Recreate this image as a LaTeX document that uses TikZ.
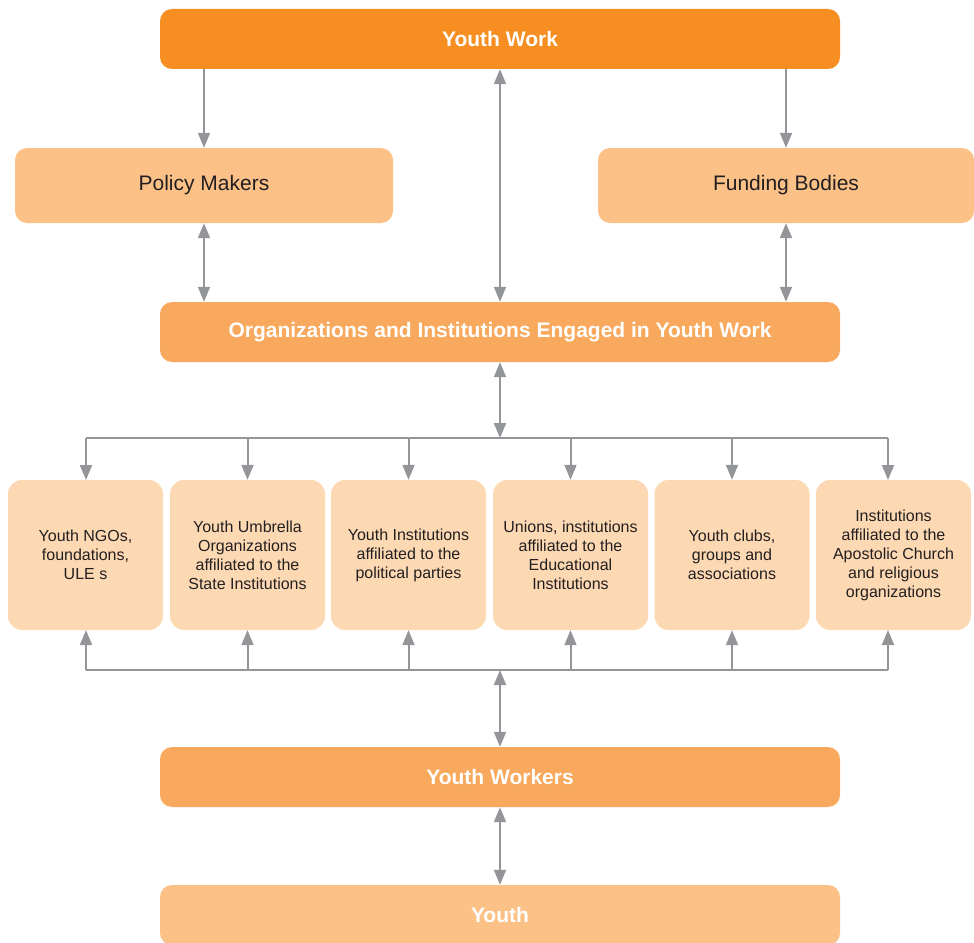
\documentclass[tikz,border=0pt]{standalone}
\usepackage{fontspec}
\setmainfont{Liberation Sans}
\usetikzlibrary{arrows.meta}
\definecolor{cdark}{HTML}{F68E21}
\definecolor{cmid}{HTML}{F8A95E}
\definecolor{clight}{HTML}{FBC187}
\definecolor{cpale}{HTML}{FDD9B3}
\definecolor{cgray}{HTML}{939598}
\definecolor{ctext}{HTML}{231F20}
\tikzset{
  bigbox/.style={rounded corners=12pt, minimum width=680pt, minimum height=60pt, inner sep=0pt,
    text=white, font=\fontsize{21}{25}\selectfont\bfseries},
  sidebox/.style={rounded corners=12pt, fill=clight, minimum height=75pt, inner sep=0pt,
    text=ctext, font=\fontsize{21}{25}\selectfont},
  smallbox/.style={rounded corners=14pt, fill=cpale, minimum width=155pt, minimum height=150pt,
    inner sep=0pt, text=ctext, align=center, font=\fontsize{16}{19}\selectfont},
  conn/.style={draw=cgray, line width=2pt},
  tip/.style={conn, -{Triangle[width=12pt,length=15pt]}},
  dtip/.style={conn, {Triangle[width=12pt,length=15pt]}-{Triangle[width=12pt,length=15pt]}},
}
\begin{document}
\begin{tikzpicture}[x=1pt,y=1pt]
\useasboundingbox (0,0) rectangle (974,-942);
\begin{scope}
\clip (0,0) rectangle (974,-942);
% main boxes
\node[bigbox, fill=cdark] (yw) at (500,-39) {Youth Work};
\node[sidebox, minimum width=378pt] (pm) at (204,-185.5) {Policy Makers};
\node[sidebox, minimum width=376pt] (fb) at (786,-185.5) {Funding Bodies};
\node[bigbox, fill=cmid] (org) at (500,-332) {Organizations and Institutions Engaged in Youth Work};
% small boxes
\node[smallbox] (s1) at (85.5,-555) {Youth NGOs,\\foundations,\\ULE s};
\node[smallbox] (s2) at (247.5,-555) {Youth Umbrella\\Organizations\\affiliated to the\\State Institutions};
\node[smallbox] (s3) at (408.5,-555) {Youth Institutions\\affiliated to the\\political parties};
\node[smallbox] (s4) at (570.5,-555) {Unions, institutions\\affiliated to the\\Educational\\Institutions};
\node[smallbox] (s5) at (732,-555) {Youth clubs,\\groups and\\associations};
\node[smallbox] (s6) at (893.5,-555) {Institutions\\affiliated to the\\Apostolic Church\\and religious\\organizations};
\node[bigbox, fill=cmid] (ywk) at (500,-777) {Youth Workers};
\node[bigbox, fill=clight] (y) at (500,-915) {Youth};
\end{scope}
% coordinates
\coordinate (bt) at (500,-438);
\coordinate (bb) at (500,-670);
\coordinate (t1) at (86,-480);
\coordinate (t6) at (888,-480);
\coordinate (b1) at (86,-630);
\coordinate (b6) at (888,-630);
% top connectors
\draw[tip] (yw.south -| pm.north) -- (pm.north);
\draw[tip] (yw.south -| fb.north) -- (fb.north);
\draw[dtip] (yw.south) -- (org.north);
\draw[dtip] (pm.south) -- (pm.south |- org.north);
\draw[dtip] (fb.south) -- (fb.south |- org.north);
\draw[dtip] (org.south) -- (bt);
% top bus
\draw[conn] (t1 |- bt) -- (t6 |- bt);
\draw[tip] (t1 |- bt) -- (t1);
\draw[tip] (s2.north |- bt) -- (s2.north);
\draw[tip] (s3.north |- bt) -- (s3.north);
\draw[tip] (s4.north |- bt) -- (s4.north);
\draw[tip] (s5.north |- bt) -- (s5.north);
\draw[tip] (t6 |- bt) -- (t6);
% bottom bus
\draw[conn] (b1 |- bb) -- (b6 |- bb);
\draw[tip] (b1 |- bb) -- (b1);
\draw[tip] (s2.south |- bb) -- (s2.south);
\draw[tip] (s3.south |- bb) -- (s3.south);
\draw[tip] (s4.south |- bb) -- (s4.south);
\draw[tip] (s5.south |- bb) -- (s5.south);
\draw[tip] (b6 |- bb) -- (b6);
\draw[dtip] (bb) -- (ywk.north);
\draw[dtip] (ywk.south) -- (y.north);
\end{tikzpicture}
\end{document}
